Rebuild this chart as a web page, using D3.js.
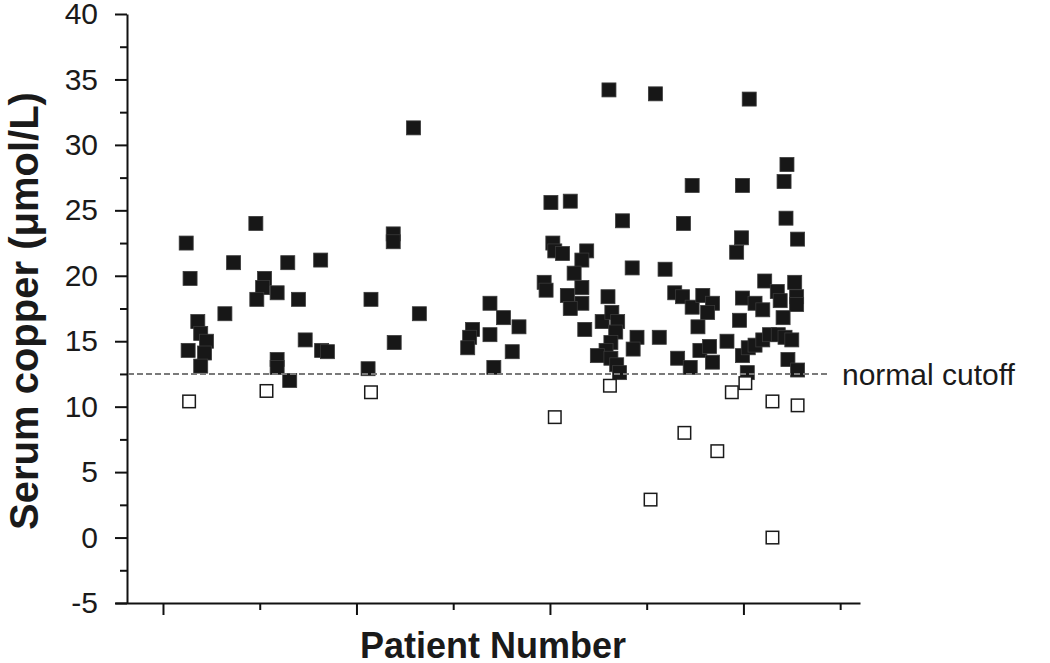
<!DOCTYPE html>
<html>
<head>
<meta charset="utf-8">
<script src="https://cdn.jsdelivr.net/npm/d3@7"></script>
<style>
  html, body { margin: 0; padding: 0; background: #fff; }
  svg { display: block; font-family: "Liberation Sans", Arial, Helvetica, sans-serif; }
</style>
</head>
<body>
<svg id="chart" width="1050" height="663"></svg>
<script>
// ---- data (patient index, serum copper µmol/L) ----
const filledPatient = [
  2.4, 2.8, 3.6, 3.9, 4.5, 2.6, 4.3, 3.9,
  6.4, 7.3, 9.6, 10.5, 10.3, 11.8, 9.7, 14.0, 12.9, 16.3, 14.7, 16.4, 17.0, 11.8, 11.8, 13.1,
  21.5, 21.2, 23.8, 23.8, 26.5, 23.9, 25.9,
  33.8, 35.2, 36.8, 32.0, 31.7, 31.5, 33.8, 36.1, 34.2,
  40.1, 42.1, 40.3, 40.5, 41.3, 43.8, 43.3, 42.5, 39.4, 39.6, 43.3, 41.8, 46.0, 43.3, 42.1, 45.4, 43.6,
  46.1, 47.5, 48.5, 46.4, 47.0, 46.8, 46.3, 45.8, 44.9, 46.3, 46.9, 47.2, 49.0, 48.6,
  50.9, 54.7, 53.8, 51.9, 51.3, 52.9, 53.7, 54.7, 55.8, 56.8, 56.3, 55.3, 55.5, 56.5, 53.2, 54.5, 56.8, 58.3,
  59.3, 59.8, 59.9, 60.6,
  59.6, 59.9, 61.2, 62.0, 62.2, 63.5, 63.8, 65.3, 65.5, 65.5, 64.1, 64.5, 64.2, 64.4, 65.6,
  59.9, 60.5, 61.2, 62.0, 62.7, 63.6, 64.3, 65.0, 60.4, 64.6, 65.6
];
const filledCopper = [
  22.5, 19.8, 16.5, 15.6, 15.0, 14.3, 14.1, 13.1,
  17.1, 21.0, 24.0, 19.8, 19.1, 18.7, 18.2, 18.2, 21.0, 21.2, 15.1, 14.3, 14.2, 13.6, 13.0, 12.0,
  18.2, 12.9, 23.2, 22.6, 17.1, 14.9, 31.3,
  17.9, 16.8, 16.1, 15.9, 15.3, 14.5, 15.5, 14.2, 13.0,
  25.6, 25.7, 22.5, 21.9, 21.7, 21.9, 21.2, 20.2, 19.5, 18.9, 19.1, 18.5, 18.4, 17.9, 17.5, 16.5, 15.9,
  34.2, 24.2, 20.6, 17.2, 16.5, 15.7, 14.9, 14.3, 13.9, 13.7, 13.2, 12.6, 15.3, 14.4,
  33.9, 26.9, 24.0, 20.5, 15.3, 18.7, 18.4, 17.6, 18.5, 17.9, 17.2, 16.1, 14.3, 14.6, 13.7, 13.0, 13.4, 15.0,
  21.8, 22.9, 26.9, 33.5,
  16.6, 18.3, 17.9, 17.4, 19.6, 18.8, 18.1, 19.5, 18.4, 17.8, 16.8, 28.5, 27.2, 24.4, 22.8,
  13.9, 14.5, 14.7, 15.1, 15.5, 15.5, 15.3, 15.1, 12.6, 13.6, 12.8
];
const openPatient = [2.7, 10.7, 21.5, 40.5, 46.2, 50.4, 53.9, 57.3, 58.8, 60.2, 63.0, 65.6, 63.0];
const openCopper  = [10.4, 11.2, 11.1, 9.2, 11.6, 2.9, 8.0, 6.6, 11.1, 11.8, 10.4, 10.1, 0.0];

const cutoffValue = 12.5;
const cutoffLabel = "normal cutoff";
const yMajorTicks = [-5, 0, 5, 10, 15, 20, 25, 30, 35, 40];
const yMinorTicks = [-2.5, 2.5, 7.5, 12.5, 17.5, 22.5, 27.5, 32.5, 37.5];
const xMajorTicks = [0, 20, 40, 60];
const xMinorTicks = [10, 30, 50, 70];
const yTitle = "Serum copper (\u03bcmol/L)";
const xTitle = "Patient Number";

// ---- drawing ----
const svg = d3.select("#chart");
const x = d3.scaleLinear().domain([-4.96, 72.05]).range([115, 860]);
const y = d3.scaleLinear().domain([-5, 40]).range([603, 14]);
const axisX0 = 127;

// y axis
const gy = svg.append("g").attr("transform", `translate(${axisX0},0)`);
gy.call(d3.axisLeft(y).tickValues(yMajorTicks).tickSize(12).tickSizeOuter(0).tickPadding(17)
  .tickFormat(d => String(d)));
gy.append("g").call(d3.axisLeft(y).tickValues(yMinorTicks).tickSize(7).tickFormat(""))
  .select(".domain").remove();
gy.selectAll("path, line").attr("stroke", "#111").attr("stroke-width", 2);
gy.selectAll("text").attr("font-size", 30).attr("fill", "#1a1a1a")
  .attr("font-family", "'Liberation Sans', Arial, sans-serif");

// x axis
const gx = svg.append("g").attr("transform", "translate(0,603)");
gx.call(d3.axisBottom(x).tickValues(xMajorTicks).tickSize(12).tickSizeOuter(0).tickFormat(""));
gx.append("g").call(d3.axisBottom(x).tickValues(xMinorTicks).tickSize(7).tickFormat(""))
  .select(".domain").remove();
gx.selectAll("path, line").attr("stroke", "#111").attr("stroke-width", 2);

// axis titles
svg.append("text")
  .attr("transform", `translate(38,311) rotate(-90)`)
  .attr("text-anchor", "middle")
  .attr("font-size", 40).attr("font-weight", "bold").attr("fill", "#1a1a1a")
  .text(yTitle);
svg.append("text")
  .attr("x", 493).attr("y", 658)
  .attr("text-anchor", "middle")
  .attr("font-size", 36).attr("font-weight", "bold").attr("fill", "#1a1a1a")
  .text(xTitle);

// markers
const S = 14;
const filled = filledPatient.map((p, i) => ({p, v: filledCopper[i]}));
const open = openPatient.map((p, i) => ({p, v: openCopper[i]}));

svg.append("g").selectAll("rect").data(filled).join("rect")
  .attr("x", d => x(d.p) - S / 2).attr("y", d => y(d.v) - S / 2)
  .attr("width", S).attr("height", S)
  .attr("fill", "#171717").attr("stroke", "#3a3a3a").attr("stroke-width", 0.8);

svg.append("g").selectAll("rect").data(open).join("rect")
  .attr("x", d => x(d.p) - S / 2 + 0.75).attr("y", d => y(d.v) - S / 2 + 0.75)
  .attr("width", S - 1.5).attr("height", S - 1.5)
  .attr("fill", "#fff").attr("stroke", "#1a1a1a").attr("stroke-width", 1.5);

// cutoff line
svg.append("line")
  .attr("x1", axisX0 + 1).attr("x2", 830)
  .attr("y1", y(cutoffValue)).attr("y2", y(cutoffValue))
  .attr("stroke", "#7a7a7a").attr("stroke-width", 2).attr("stroke-dasharray", "6,3");
svg.append("text")
  .attr("x", 842).attr("y", y(cutoffValue) + 11)
  .attr("font-size", 30).attr("fill", "#1a1a1a")
  .text(cutoffLabel);
</script>
</body>
</html>
